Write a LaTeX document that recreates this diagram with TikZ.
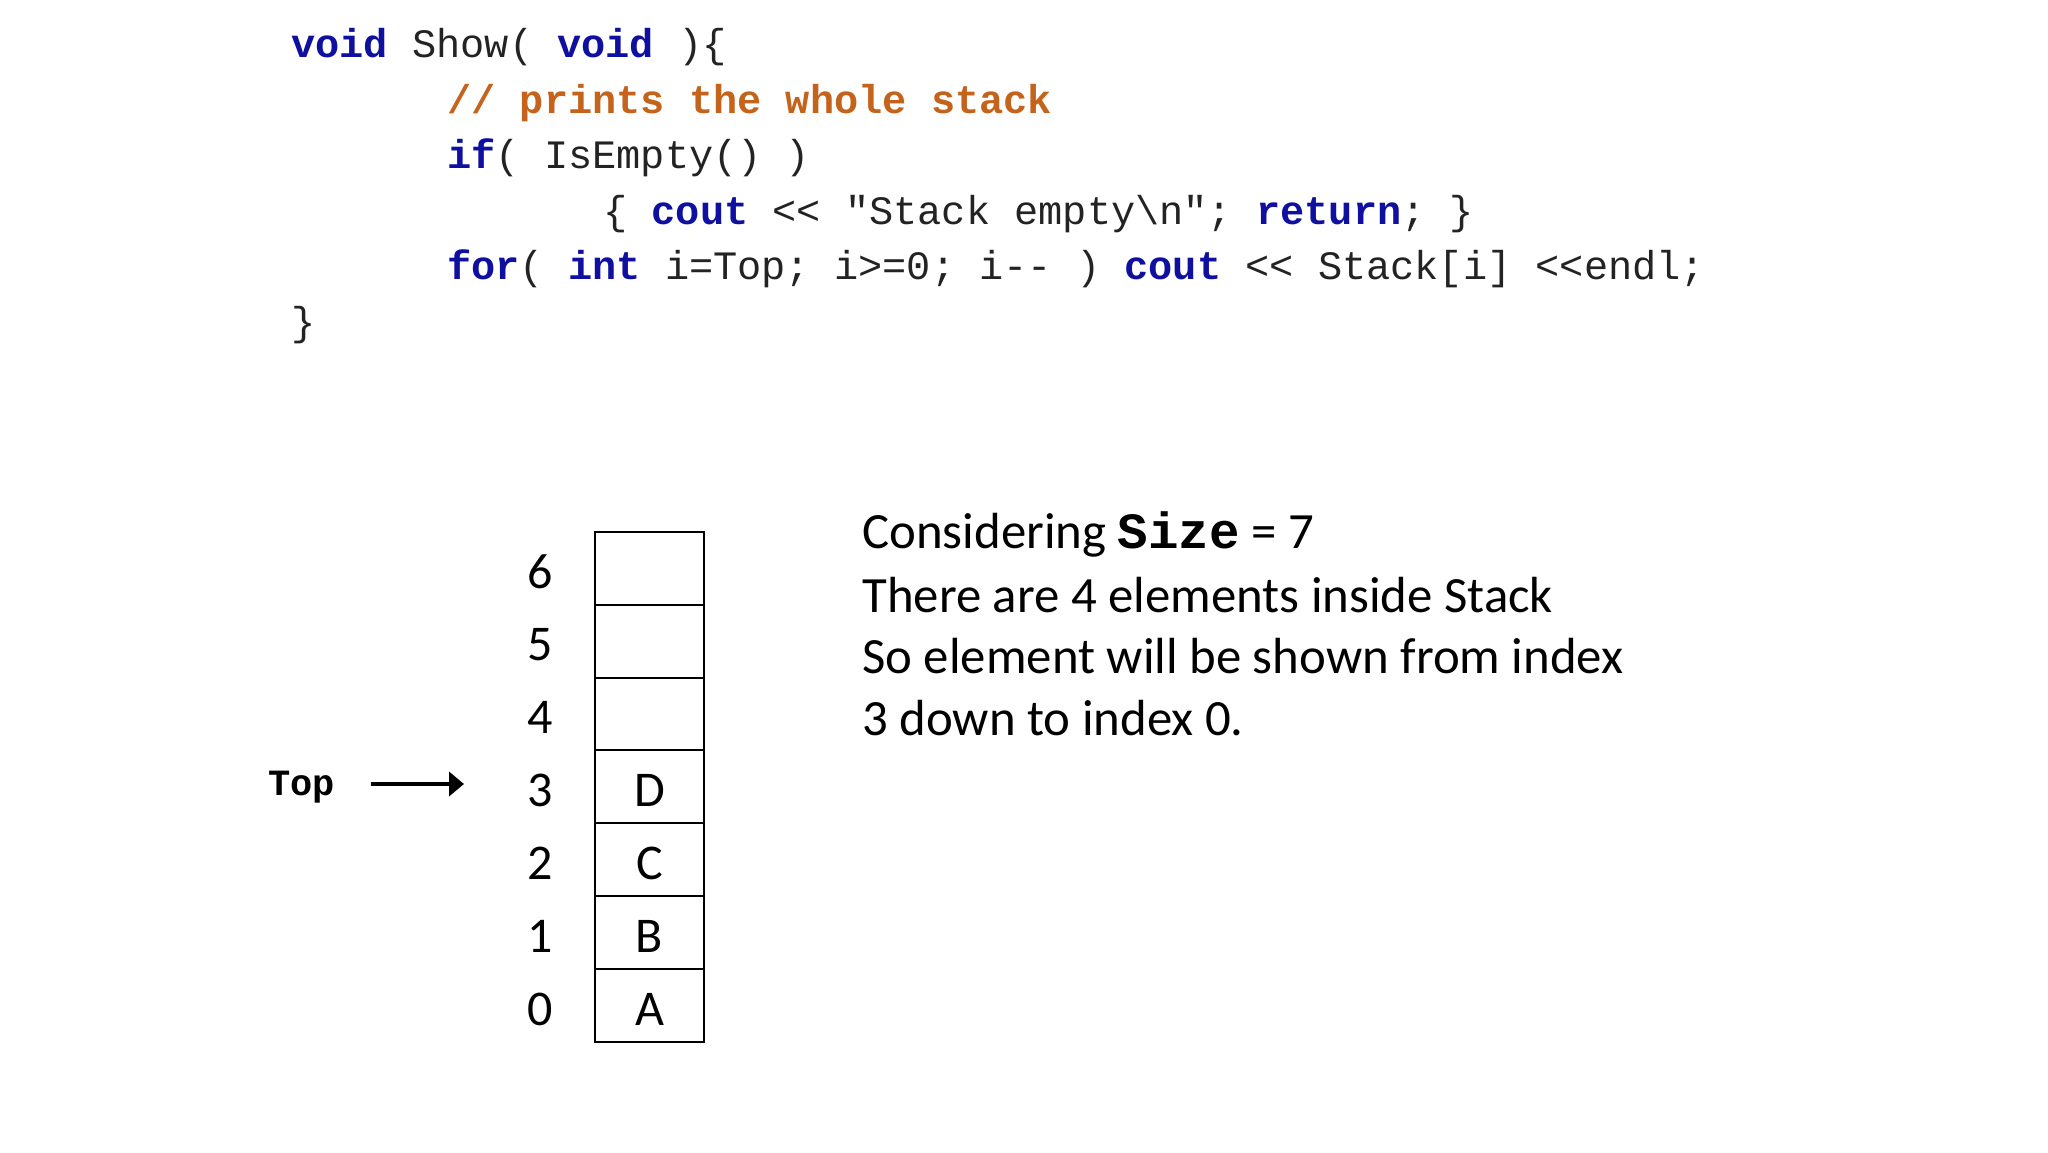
\documentclass[tikz,border=0pt]{standalone}
\usepackage{fontspec}
\setmainfont{Carlito}
\newfontfamily\codefont{Liberation Mono}[Ligatures=TeXOff]
\usetikzlibrary{arrows.meta}
\definecolor{kwblue}{RGB}{16,16,160}
\definecolor{cmtorange}{RGB}{196,100,28}
\definecolor{codegray}{RGB}{35,35,35}
\newcommand{\kw}[1]{{\bfseries\color{kwblue}#1}}
\tikzset{
  codeline/.style={anchor=base west, inner sep=0pt, text=codegray,
    font=\codefont\fontsize{20.15}{24}\selectfont},
  cell/.style={draw=black, line width=1pt, minimum width=54.5pt,
    minimum height=36.45pt, inner sep=0pt},
  idx/.style={inner sep=0pt, font=\fontsize{25}{29}\selectfont},
  info/.style={anchor=base west, inner sep=0pt, font=\fontsize{25.4}{31}\selectfont},
  toplbl/.style={anchor=base west, inner sep=0pt,
    font=\codefont\bfseries\fontsize{18.5}{22}\selectfont},
  ptr/.style={line width=2pt, -{Triangle[length=7.5pt,width=12pt]}}
}
\begin{document}
\begin{tikzpicture}[x=0.5pt,y=-0.5pt]
\fill[white] (0,0) rectangle (2048,1152);
\useasboundingbox (0,0) rectangle (2048,1152);
% code
\node[codeline] (c1) at (291,57.5) {\kw{void} Show( \kw{void} )\{};
\node[codeline] (c2) at (447,113) {{\bfseries\color{cmtorange}// prints the whole stack}};
\node[codeline] (c3) at (447,168.5) {\kw{if}( IsEmpty() )};
\node[codeline] (c4) at (603,224) {\{ \kw{cout} << "Stack empty\textbackslash n"; \kw{return}; \}};
\node[codeline] (c5) at (447,279.5) {\kw{for}( \kw{int} i=Top; i>=0; i-- ) \kw{cout} << Stack[i] <<endl;};
\node[codeline] (c6) at (291,335) {\}};
% stack
\foreach \i/\t in {0/A,1/B,2/C,3/D,4/,5/,6/}{
  \node[cell] (cell\i) at (649.5,{1005.55-72.9*\i}) {};
  \node[idx] (val\i) at (649.5,{1009.5-72.9*\i}) {\t};
  \node[idx] (idx\i) at (540,{1009.5-72.9*\i}) {\i};
}
\node[toplbl] (top) at (268,795.5) {Top};
\coordinate (arrS) at (371,784);
\coordinate (arrE) at (464,784);
\draw[ptr] (arrS) -- (arrE);
% info text
\node[info] (t1) at (862,548) {Considering {\codefont\bfseries Size} = 7};
\node[info] (t2) at (862,612) {There are 4 elements inside Stack};
\node[info] (t3) at (862,673) {So element will be shown from index};
\node[info] (t4) at (862,735) {3 down to index 0.};
\end{tikzpicture}
\end{document}
